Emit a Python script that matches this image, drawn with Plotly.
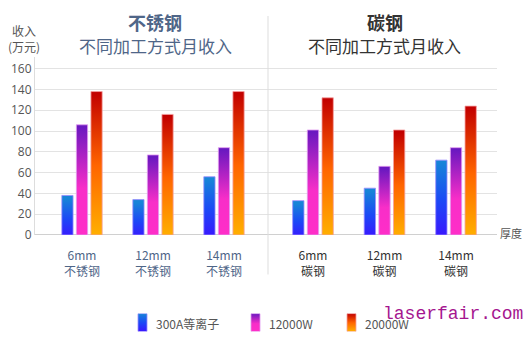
import plotly.graph_objects as go

# ---------------- data ----------------
thickness = ["6mm", "12mm", "14mm"]
material_left = "不锈钢"
material_right = "碳钢"
series_names = ["300A等离子", "12000W", "20000W"]
stainless_plasma = [38, 34, 56]
stainless_12kw = [106, 77, 84]
stainless_20kw = [138, 116, 138]
carbon_plasma = [33, 45, 72]
carbon_12kw = [101, 66, 84]
carbon_20kw = [132, 101, 124]
y_ticks = [0, 20, 40, 60, 80, 100, 120, 140, 160]

# ---------------- styles ----------------
W, H = 528, 345
K = 0.975  # vertical calibration
scales = [
    [[0, "#3c12ff"], [0.5, "#1c48f6"], [1, "#1784d8"]],
    [[0, "#ff2ec8"], [0.45, "#f82ec8"], [1, "#6a18c0"]],
    [[0, "#ffb400"], [0.5, "#ff6500"], [1, "#c20000"]],
]
outline = ["#9a8cff", "#e29af0", "#f5a0a0"]
CJK = "Noto Sans CJK SC, Noto Sans, sans-serif"
slate = "#4f6688"
dark = "#333333"
grey = "#555555"

def px_x(p):
    return p / W

def px_y(p):
    return 1 - (p / K) / H

fig = go.Figure()

# bar geometry in category units
half_w = 0.079
step = 0.205

def add_bars(values_list, xaxis, yaxis):
    for s, vals in enumerate(values_list):
        for i, v in enumerate(vals):
            c = i + (s - 1) * step
            fig.add_trace(go.Scatter(
                x=[c - half_w, c + half_w, c + half_w, c - half_w, c - half_w],
                y=[0, 0, v, v, 0],
                mode="lines", fill="toself",
                line=dict(width=0.8, color=outline[s]),
                fillgradient=dict(type="vertical", colorscale=scales[s], start=0, stop=v),
                xaxis=xaxis, yaxis=yaxis, showlegend=False, hoverinfo="skip",
            ))

add_bars([stainless_plasma, stainless_12kw, stainless_20kw], "x", "y")
add_bars([carbon_plasma, carbon_12kw, carbon_20kw], "x2", "y2")

def label(x, y, text, size, color, family=CJK, xanchor="center"):
    fig.add_annotation(x=px_x(x), y=px_y(y), xref="paper", yref="paper", text=text,
                       showarrow=False, xanchor=xanchor, yanchor="middle",
                       font=dict(family=family, size=size, color=color))

# legend swatches on an auxiliary pixel axis
sw_x = [138, 251, 347]
sw_w = 9
for s in range(3):
    x0 = sw_x[s]
    fig.add_trace(go.Scatter(
        x=[x0, x0 + sw_w, x0 + sw_w, x0, x0], y=[0, 0, 1, 1, 0],
        mode="lines", fill="toself", line=dict(width=0.8, color=outline[s]),
        fillgradient=dict(type="vertical", colorscale=scales[s], start=0, stop=1),
        xaxis="x3", yaxis="y3", showlegend=False, hoverinfo="skip",
    ))
    label(x0 + sw_w + 7, 323, series_names[s], 12, grey, xanchor="left")

y_top = 171
ydom = [px_y(234.5), px_y(234.5 - y_top * 1.037)]
common_y = dict(range=[0, y_top], domain=ydom, tickvals=y_ticks, showgrid=True,
                gridcolor="#e3e3e3", gridwidth=1, zeroline=True, zerolinecolor="#d0d0d0",
                zerolinewidth=1, fixedrange=True)

fig.update_layout(
    width=W, height=H,
    margin=dict(l=0, r=0, t=0, b=0),
    paper_bgcolor="white", plot_bgcolor="white",
    showlegend=False,
    xaxis=dict(domain=[px_x(35), px_x(268)], range=[-0.662, 2.62],
               tickvals=[0, 1, 2], ticktext=[f"{t}<br>{material_left}" for t in thickness],
               tickfont=dict(family=CJK, size=12, color=slate), showgrid=False, zeroline=False,
               ticks="outside", ticklen=10, tickcolor="rgba(0,0,0,0)"),
    xaxis2=dict(domain=[px_x(268), px_x(497)], range=[-0.629, 2.573],
                tickvals=[0, 1, 2], ticktext=[f"{t}<br>{material_right}" for t in thickness],
                tickfont=dict(family=CJK, size=12, color=dark), showgrid=False, zeroline=False,
                ticks="outside", ticklen=10, tickcolor="rgba(0,0,0,0)"),
    yaxis=dict(**common_y, anchor="x", showticklabels=True,
               tickfont=dict(family="Open Sans, sans-serif", size=12, color=grey),
               showline=True, linecolor="#dddddd", linewidth=1),
    yaxis2=dict(**common_y, anchor="x2", showticklabels=False),
    xaxis3=dict(domain=[0, 1], range=[0, W], visible=False, fixedrange=True),
    yaxis3=dict(domain=[px_y(331), px_y(313)], range=[0, 1], visible=False, anchor="x3", fixedrange=True),
)

# divider
fig.add_shape(type="line", xref="paper", yref="paper", x0=px_x(268), x1=px_x(268),
              y0=px_y(274), y1=px_y(16), line=dict(color="#dddddd", width=1))

# titles
label(155, 22, "<b>不锈钢</b>", 18, slate)
label(155, 45, "不同加工方式月收入", 17, slate)
label(385, 22, "<b>碳钢</b>", 18, dark)
label(384, 45, "不同加工方式月收入", 17, dark)
# y-axis title (two lines in one text)
label(24, 38, "收入<br>(万元)", 12, grey)
# x-axis title
label(498, 233, "厚度", 11, grey, xanchor="left")
# watermark
label(381, 313, "laserfair.com", 18, "#a5168f",
      family="Liberation Mono, DejaVu Sans Mono, monospace", xanchor="left")

fig.write_html("out.html")
